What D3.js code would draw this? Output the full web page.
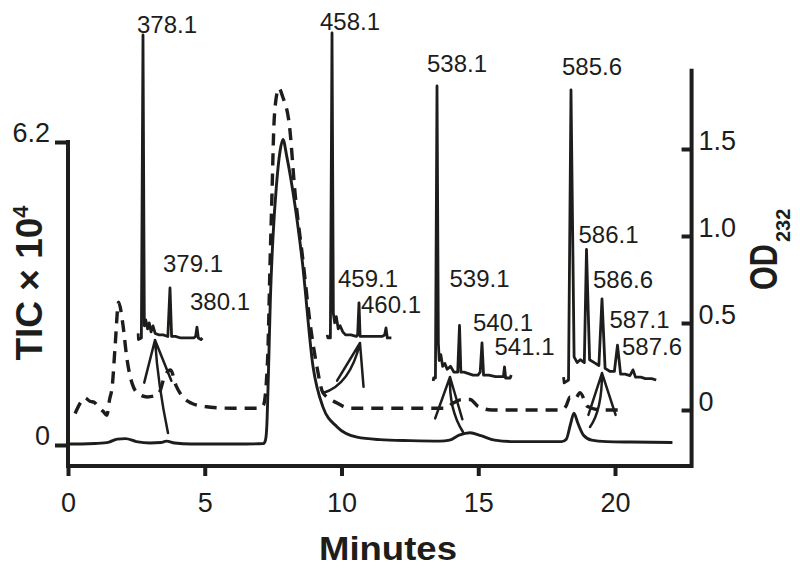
<!DOCTYPE html>
<html>
<head>
<meta charset="utf-8">
<script src="https://cdn.jsdelivr.net/npm/d3@7"></script>
<style>
  body { margin: 0; background: #fff; }
  svg { display: block; }
  text { font-family: "Liberation Sans", Arial, Helvetica, sans-serif; fill: #1d1d1b; }
</style>
</head>
<body>
<div id="chart"></div>
<script>
// TIC trace (minutes, TIC x 10^4)
const ticCurve = [
  [0.05, 0.02], [0.5, 0.02], [1.0, 0.03], [1.5, 0.06], [1.8, 0.12], [2.1, 0.13], [2.5, 0.07],
  [3.0, 0.04], [3.4, 0.05], [3.6, 0.08], [3.9, 0.04], [4.5, 0.02], [5.5, 0.02], [6.5, 0.02],
  [7.15, 0.03], [7.22, 0.1], [7.27, 0.4], [7.33, 1.5], [7.4, 3.0], [7.5, 4.3], [7.62, 5.3],
  [7.75, 6.0], [7.86, 6.25], [8.0, 5.9], [8.23, 5.16], [8.56, 3.79], [8.96, 1.6], [9.32, 0.78],
  [9.84, 0.37], [10.57, 0.16], [11.4, 0.11], [12.5, 0.09], [13.6, 0.08], [13.95, 0.1],
  [14.3, 0.2], [14.7, 0.25], [15.1, 0.19], [15.6, 0.1], [16.2, 0.07], [17.2, 0.07], [18.05, 0.07],
  [18.22, 0.12], [18.37, 0.42], [18.5, 0.65], [18.64, 0.45], [18.85, 0.2], [19.15, 0.1],
  [19.7, 0.07], [20.6, 0.06], [22.1, 0.05]
];

// OD232 trace (minutes, OD)
const odCurve = [
  [0.26, -0.02], [0.45, 0.04], [0.62, 0.07], [0.8, 0.05], [0.95, 0.045], [1.1, 0.02], [1.3, -0.01],
  [1.42, -0.03], [1.52, 0.06], [1.62, 0.14], [1.72, 0.36], [1.85, 0.62], [2.0, 0.5], [2.15, 0.3],
  [2.35, 0.15], [2.6, 0.09], [2.9, 0.075], [3.3, 0.09], [3.55, 0.2], [3.75, 0.23], [3.95, 0.14],
  [4.2, 0.075], [4.5, 0.04], [5.0, 0.02], [6.0, 0.01], [7.0, 0.01], [7.15, 0.03], [7.3, 0.3],
  [7.39, 0.86], [7.46, 1.25], [7.52, 1.6], [7.6, 1.78], [7.71, 1.85], [7.85, 1.8], [8.1, 1.63],
  [8.3, 1.25], [8.59, 0.86], [8.85, 0.5], [9.1, 0.25], [9.32, 0.1], [9.84, 0.04], [10.3, 0.01],
  [13.8, 0.01], [14.08, 0.04], [14.4, 0.06], [14.7, 0.06], [15.0, 0.02], [15.5, 0.0], [18.0, 0.0],
  [18.2, 0.02], [18.36, 0.075], [18.55, 0.065], [18.72, 0.1], [19.0, 0.02], [19.5, 0.0], [20.1, 0.0]
];

// mass spectra (m/z, relative intensity %)
const spectrum378 = [
  [377.92, 1.5], [377.93, -0.5], [378.04, 0], [378.1, 100], [378.15, 4], [378.2, 6], [378.27, 3],
  [378.33, 5], [378.4, 2], [378.47, 4], [378.55, 1.5], [378.7, 1], [378.85, 1], [379.02, 0.5],
  [379.1, 16.5], [379.16, 0.5], [379.3, 0.5], [379.5, 0], [379.8, 0], [379.98, 0], [380.05, 0.5],
  [380.1, 3.6], [380.15, 0], [380.25, -0.5], [380.3, 0]
];
const spectrum458 = [
  [457.92, 1], [457.95, 0], [458.04, 0], [458.1, 100], [458.15, 8], [458.2, 5], [458.26, 7],
  [458.33, 3], [458.4, 4], [458.5, 2], [458.6, 1], [458.8, 1], [459.0, 0.5], [459.05, 1],
  [459.1, 11.5], [459.14, 0.5], [459.3, 0.5], [459.6, 0.5], [459.95, 0.5], [460.05, 1],
  [460.1, 3.3], [460.15, 0], [460.3, 0]
];
const spectrum538 = [
  [537.93, -1], [537.95, 0], [538.03, 0], [538.1, 100], [538.16, 12], [538.2, 6], [538.27, 8],
  [538.35, 4], [538.45, 5], [538.55, 3], [538.7, 4], [538.85, 2], [539.02, 2], [539.1, 18],
  [539.16, 2], [539.3, 2], [539.5, 1.5], [539.7, 1], [539.92, 1], [540.02, 2], [540.1, 12],
  [540.17, 1], [540.4, 1], [540.7, 0.5], [540.95, 0.5], [541.05, 0.5], [541.1, 3.8], [541.15, 0],
  [541.35, 0], [541.4, 1]
];
const spectrum585 = [
  [585.36, 1], [585.38, -1], [585.52, 0], [585.6, 100], [585.7, 8], [585.8, 6], [585.9, 7],
  [586.03, 6], [586.1, 45], [586.2, 7], [586.35, 6], [586.5, 5], [586.6, 28], [586.7, 4],
  [586.85, 3], [587.0, 3], [587.1, 12], [587.2, 2], [587.35, 2], [587.5, 1.5], [587.6, 3.5],
  [587.68, 1], [587.85, 1], [588.0, 0.5], [588.2, 0.5], [588.35, 0]
];

// labelled peaks of each spectrum (m/z)
const peaks378 = [378.1, 379.1, 380.1];
const peaks458 = [458.1, 459.1, 460.1];
const peaks538 = [538.1, 539.1, 540.1, 541.1];
const peaks585 = [585.6, 586.1, 586.6, 587.1, 587.6];

const xTicks = [0, 5, 10, 15, 20];
const ticTicks = [0, 6.2];
const odTicks = [0, 0.5, 1.0, 1.5];

// ---- layout ----
const width = 800, height = 572;
const plotBottom = 466;
const ink = '#1d1d1b';

const svg = d3.select('#chart').append('svg')
  .attr('width', width)
  .attr('height', height);

const x = d3.scaleLinear().domain([0, 20]).range([68, 615]);
const yL = d3.scaleLinear().domain([0, 6.2]).range([445, 142]);
const yR = d3.scaleLinear().domain([0, 1.5]).range([410, 149]);
const rightX = x(22.8);

// where each spectrum sits: m/z origin -> minutes, baseline/top in TIC units
const insets = [
  { data: spectrum378, peaks: peaks378, mz0: 378.1, t0: 2.742, perMz: 0.987, base: 2.19, top: 8.39,
    nudge: [[-6, -2], [-7, -16], [-7, -17]] },
  { data: spectrum458, peaks: peaks458, mz0: 458.1, t0: 9.653, perMz: 0.987, base: 2.19, top: 8.43,
    nudge: [[-12, -3], [-21, -16], [-25, -15]] },
  { data: spectrum538, peaks: peaks538, mz0: 538.1, t0: 13.492, perMz: 0.8227, base: 1.371, top: 7.346,
    nudge: [[-10, -14], [-10, -38], [-9, -12], [-10, -12]] },
  { data: spectrum585, peaks: peaks585, mz0: 585.6, t0: 18.391, perMz: 1.1335, base: 1.33, top: 7.264,
    nudge: [[-9, -15], [-8, -7], [-9, -11], [-8, -17], [-11, -15]] }
];

// arrows from chromatogram peak up to spectrum (minutes, TIC): start, control, tip
const arrows = [
  [[3.656, 0.246], [3.291, 1.228], [3.181, 2.149]],
  [[9.324, 1.064], [10.311, 1.228], [10.676, 2.087]],
  [[14.442, 0.266], [13.931, 0.716], [13.967, 1.391]],
  [[19.086, 0.368], [19.525, 0.716], [19.525, 1.473]]
];

// ---- traces ----
const ticLine = d3.line()
  .x(d => x(d[0]))
  .y(d => yL(d[1]))
  .curve(d3.curveMonotoneX);
const odLine = d3.line()
  .x(d => x(d[0]))
  .y(d => yR(d[1]))
  .curve(d3.curveMonotoneX);

svg.append('path')
  .datum(odCurve)
  .attr('d', odLine)
  .attr('fill', 'none')
  .attr('stroke', ink)
  .attr('stroke-width', 3.4)
  .attr('stroke-dasharray', '12,8');

svg.append('path')
  .datum(ticCurve)
  .attr('d', ticLine)
  .attr('fill', 'none')
  .attr('stroke', ink)
  .attr('stroke-width', 2.9);

// ---- spectra ----
insets.forEach(s => {
  const sx = d3.scaleLinear().domain([s.mz0, s.mz0 + 1]).range([x(s.t0), x(s.t0 + s.perMz)]);
  const sy = d3.scaleLinear().domain([0, 100]).range([yL(s.base), yL(s.top)]);
  const lookup = new Map(s.data.map(d => [d[0], d[1]]));

  svg.append('path')
    .datum(s.data)
    .attr('d', d3.line().x(d => sx(d[0])).y(d => sy(d[1])))
    .attr('fill', 'none')
    .attr('stroke', ink)
    .attr('stroke-width', 2.8)
    .attr('stroke-linejoin', 'round');

  svg.selectAll(null)
    .data(s.peaks)
    .join('text')
    .attr('x', (d, i) => sx(d) + s.nudge[i][0])
    .attr('y', (d, i) => sy(lookup.get(d)) + s.nudge[i][1])
    .attr('font-size', 24)
    .text(d => d.toFixed(1));
});

// ---- arrows ----
arrows.forEach(a => {
  const [p0, c, p1] = a.map(d => [x(d[0]), yL(d[1])]);
  const path = d3.path();
  path.moveTo(p0[0], p0[1]);
  path.quadraticCurveTo(c[0], c[1], p1[0], p1[1]);
  const ang = Math.atan2(c[1] - p1[1], c[0] - p1[0]);
  const len = 44, spread = 18 * Math.PI / 180;
  [-spread, spread].forEach(s => {
    path.moveTo(p1[0], p1[1]);
    path.lineTo(p1[0] + len * Math.cos(ang + s), p1[1] + len * Math.sin(ang + s));
  });
  svg.append('path')
    .attr('d', path.toString())
    .attr('fill', 'none')
    .attr('stroke', ink)
    .attr('stroke-width', 2.5)
    .attr('stroke-linecap', 'round');
});

// ---- axes ----
const frame = d3.path();
frame.moveTo(x(0), yL(6.2));
frame.lineTo(x(0), plotBottom);
frame.lineTo(rightX, plotBottom);
frame.lineTo(rightX, yR(1.95));
svg.append('path')
  .attr('d', frame.toString())
  .attr('fill', 'none')
  .attr('stroke', ink)
  .attr('stroke-width', 4)
  .attr('stroke-linecap', 'square');

function styleAxis(g) {
  g.select('.domain').remove();
  g.selectAll('.tick line').attr('stroke', ink).attr('stroke-width', 4);
  g.selectAll('.tick text').attr('font-size', 27).attr('fill', ink)
    .style('font-family', '"Liberation Sans", Arial, Helvetica, sans-serif');
}

svg.append('g')
  .attr('transform', `translate(0,${plotBottom})`)
  .call(d3.axisBottom(x).tickValues(xTicks).tickSize(10).tickPadding(17).tickFormat(d3.format('d')))
  .call(styleAxis);

svg.append('g')
  .attr('transform', `translate(${x(0)},0)`)
  .call(d3.axisLeft(yL).tickValues(ticTicks).tickSize(13).tickPadding(5)
    .tickFormat(d => d === 0 ? '0' : d3.format('.1f')(d)))
  .call(styleAxis)
  .call(g => g.selectAll('.tick text').attr('dy', -1));

svg.append('g')
  .attr('transform', `translate(${rightX},0)`)
  .call(d3.axisRight(yR).tickValues(odTicks).tickSizeInner(-10).tickSizeOuter(0).tickPadding(7)
    .tickFormat(d => d === 0 ? '0' : d3.format('.1f')(d)))
  .call(styleAxis)
  .call(g => g.selectAll('.tick text').attr('dy', 0));

// ---- axis titles ----
svg.append('text')
  .attr('x', x(11.7))
  .attr('y', 560)
  .attr('text-anchor', 'middle')
  .attr('font-size', 33)
  .attr('font-weight', 'bold')
  .attr('textLength', 138)
  .attr('lengthAdjust', 'spacingAndGlyphs')
  .text('Minutes');

const ticTitle = svg.append('text')
  .attr('transform', 'translate(42,283) rotate(-90)')
  .attr('text-anchor', 'middle')
  .attr('font-size', 37)
  .attr('font-weight', 'bold');
ticTitle.append('tspan').text('TIC \u00d7 10');
ticTitle.append('tspan').attr('font-size', 22).attr('dy', -14).text('4');

svg.append('text')
  .attr('transform', 'translate(777,290) rotate(-90)')
  .attr('font-size', 38)
  .attr('font-weight', 'bold')
  .attr('textLength', 46)
  .attr('lengthAdjust', 'spacingAndGlyphs')
  .text('OD');
svg.append('text')
  .attr('transform', 'translate(790,242) rotate(-90)')
  .attr('font-size', 20)
  .attr('font-weight', 'bold')
  .text('232');
</script>
</body>
</html>
